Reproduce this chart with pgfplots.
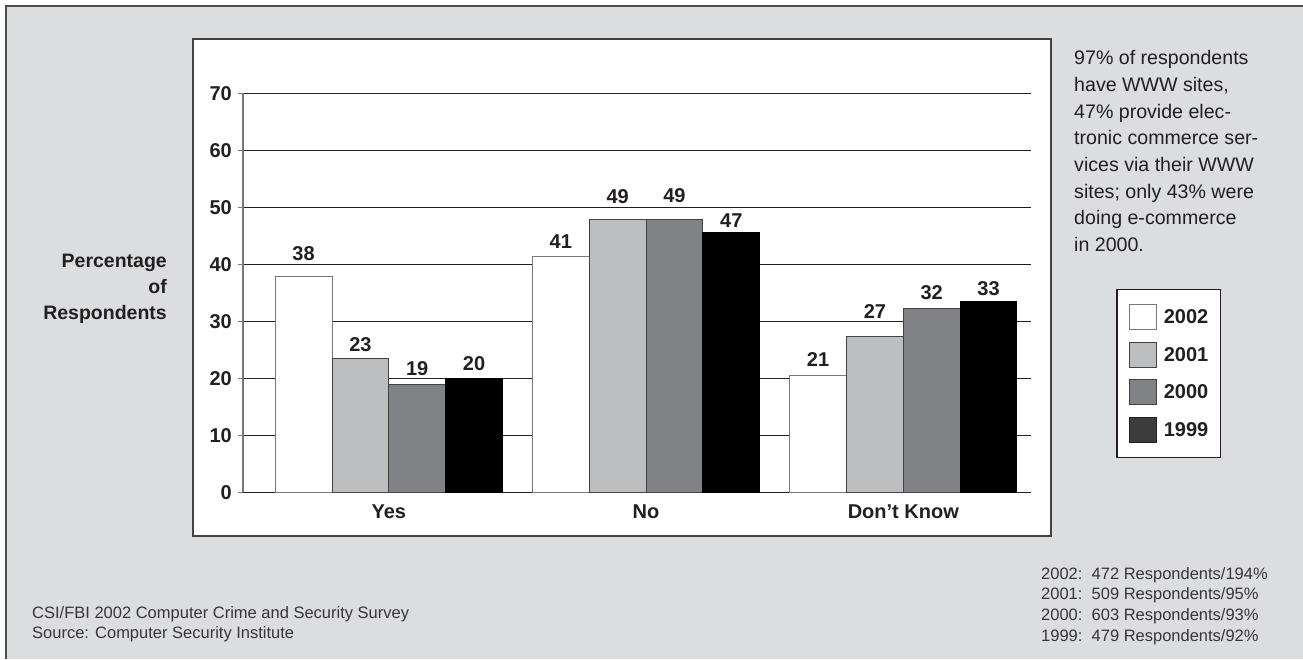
\documentclass[border=0pt]{standalone}
\usepackage{pgfplots}
\pgfplotsset{compat=1.18}
\usepackage{pgfplotstable}
\usepackage{fontspec}
\setmainfont{Liberation Sans}
\definecolor{bg}{HTML}{DCDDDF}
\definecolor{frame}{HTML}{4D4D4F}
\definecolor{ink}{HTML}{231F20}
\definecolor{gA}{HTML}{BCBEC0}
\definecolor{gB}{HTML}{808285}
\definecolor{legdark}{HTML}{3C3C3C}
\definecolor{axgray}{HTML}{77787B}

% x = category, y = bar height, lab = printed value, off = label baseline above bar top (bp)
\pgfplotstableread{
x y lab off
0 37.8 38 16.5
1 41.3 41 8.8
2 20.5 21 8.5
}\tA
\pgfplotstableread{
x y lab off
0 23.4 23 7.4
1 47.8 49 16.8
2 27.4 27 17.8
}\tB
\pgfplotstableread{
x y lab off
0 19.0 19 8.4
1 47.8 49 17.8
2 32.2 32 9.4
}\tC
\pgfplotstableread{
x y lab off
0 20.0 20 8.1
1 45.6 47 4.5
2 33.4 33 6.8
}\tD

\newcommand{\bfnt}{\bfseries\fontsize{20bp}{24bp}\selectfont}
\newcommand{\rfnt}{\fontsize{19.6bp}{26.7bp}\selectfont}
\newcommand{\sfnt}{\fontsize{16.5bp}{20.7bp}\selectfont}

\begin{document}
\begin{tikzpicture}
\begin{scope}[x=1bp,y=1bp]
\useasboundingbox (0,0) rectangle (1303,659);
\fill[bg] (6,0) rectangle (1303,653);
\draw[frame, line width=1.5bp] (6,0) -- (6,653) -- (1303,653);
\draw[fill=white, draw=ink!85, line width=1.5bp] (193,123) rectangle (1051,620);
\end{scope}
\begin{axis}[
  at={(243bp,166.7bp)}, anchor=south west,
  scale only axis, width=788bp, height=398.9bp,
  xmin=-0.5668, xmax=2.4964, ymin=0, ymax=70,
  clip=false,
  ytick={0,10,...,70},
  xtick={0,1,2}, xticklabels={Yes,No,Don’t Know},
  axis x line*=bottom, axis y line*=left,
  x axis line style={ink, line width=1bp, -},
  y axis line style={axgray, line width=1.2bp, -},
  ymajorgrids,
  major grid style={ink, line width=0.9bp},
  tick align=outside, major tick length=5bp,
  ytick style={axgray, line width=1bp},
  xtick style={draw=none},
  /pgf/number format/assume math mode=true,
  ticklabel style={font=\bfnt, text=ink},
  yticklabel style={anchor=east, inner sep=0pt, xshift=-6bp},
  xticklabel style={anchor=base, inner sep=0pt, yshift=-21bp},
  ylabel={Percentage\\of\\Respondents},
  ylabel style={rotate=-90, align=right, anchor=east, inner sep=0pt,
    at={(axis description cs:-0.0964,0.51)},
    font=\bfseries\fontsize{19.5bp}{26bp}\selectfont, text=ink},
  ybar=0pt, bar width=56.8bp,
  point meta=explicit symbolic,
  visualization depends on={\thisrow{off} \as \myoff},
  nodes near coords,
  every node near coord/.append style={anchor=base, yshift=\myoff bp, inner sep=0pt, font=\bfnt, text=ink},
  mylegend/.style={legend image code/.code={\draw[##1] (0bp,-12.5bp) rectangle (27bp,12.5bp);}},
  legend style={at={(axis description cs:1.1079,0.5097)}, anchor=north west,
    draw=ink, line width=1.5bp, fill=white, inner xsep=12bp, inner ysep=14.5bp,
    row sep=11.6bp, column sep=7bp, font=\bfnt, text=ink,
    nodes={inner sep=0pt}},
  legend cell align=left,
]
\addplot[fill=white, draw=axgray, line width=1bp, mylegend] table[x=x, y=y, meta=lab] {\tA};
\addplot[fill=gA, draw=ink!85, line width=1bp, mylegend] table[x=x, y=y, meta=lab] {\tB};
\addplot[fill=gB, draw=ink!85, line width=1bp, mylegend] table[x=x, y=y, meta=lab] {\tC};
\addplot[fill=black, draw=black, line width=1bp, mylegend, legend image post style={fill=legdark, draw=ink}] table[x=x, y=y, meta=lab] {\tD};
\legend{2002,2001,2000,1999}
\end{axis}
\begin{scope}[x=1bp,y=1bp]
\begin{scope}[every node/.style={anchor=base west, inner sep=0pt, font=\rfnt, text=ink}]
\node at (1074,594) {97\% of respondents};
\node at (1074,567.3) {have WWW sites,};
\node at (1074,540.7) {47\% provide elec-};
\node at (1074,514) {tronic commerce ser-};
\node at (1074,487.3) {vices via their WWW};
\node at (1074,460.7) {sites; only 43\% were};
\node at (1074,434) {doing e-commerce};
\node at (1074,407.3) {in 2000.};
\end{scope}
\begin{scope}[every node/.style={anchor=base west, inner sep=0pt, font=\sfnt, text=ink!90}]
\node at (1041,79.7) {2002:\ \ 472 Respondents/194\%};
\node at (1041,59) {2001:\ \ 509 Respondents/95\%};
\node at (1041,38.7) {2000:\ \ 603 Respondents/93\%};
\node at (1041,17.7) {1999:\ \ 479 Respondents/92\%};
\node at (32,40) {CSI/FBI 2002 Computer Crime and Security Survey};
\node at (32,20) {Source: Computer Security Institute};
\end{scope}
\end{scope}
\end{tikzpicture}
\end{document}
